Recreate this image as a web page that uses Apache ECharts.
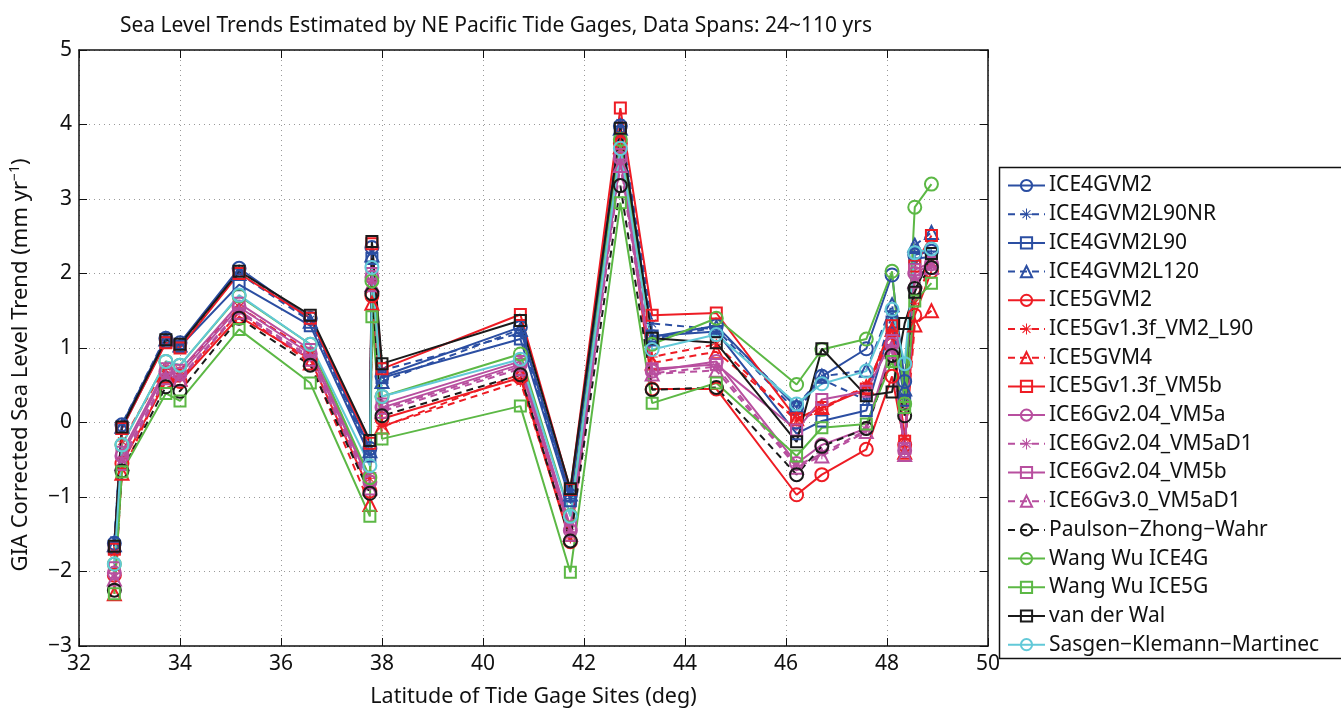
<!DOCTYPE html>
<html>
<head>
<meta charset="utf-8">
<script src="https://cdn.jsdelivr.net/npm/echarts@6/dist/echarts.min.js"></script>
<style>
html, body { margin: 0; padding: 0; background: #fff; }
#chart { width: 1341px; height: 713px; }
</style>
</head>
<body>
<div id="chart"></div>
<script>
// tide gage latitudes (deg)
let lats = [32.70, 32.85, 33.72, 34.00, 35.17, 36.58, 37.76, 37.80, 38.00, 40.74, 41.73, 42.72, 43.35, 44.62, 46.21, 46.71, 47.59, 48.10, 48.35, 48.55, 48.88];

let names = ['ICE4GVM2', 'ICE4GVM2L90NR', 'ICE4GVM2L90', 'ICE4GVM2L120', 'ICE5GVM2', 'ICE5Gv1.3f_VM2_L90', 'ICE5GVM4', 'ICE5Gv1.3f_VM5b',
	'ICE6Gv2.04_VM5a', 'ICE6Gv2.04_VM5aD1', 'ICE6Gv2.04_VM5b', 'ICE6Gv3.0_VM5aD1', 'Paulson\u2212Zhong\u2212Wahr', 'Wang Wu ICE4G', 'Wang Wu ICE5G', 'van der Wal', 'Sasgen\u2212Klemann\u2212Martinec'];

// GIA corrected trends (mm/yr), one list per model, same order as lats
let ice4gVm2       = [-1.62, -0.03, 1.13, 1.07, 2.07, 1.40, -0.35, 2.35, 0.62, 1.28, -0.98, 3.98, 1.15, 1.30, 0.20, 0.62, 0.99, 1.98, 0.55, 2.25, 2.30];
let ice4gL90nr     = [-1.58, -0.02, 1.15, 1.06, 2.05, 1.38, -0.42, 2.28, 0.70, 1.20, -1.02, 4.02, 1.33, 1.25, 0.15, 0.58, 0.30, 1.45, 0.35, 2.35, 2.25];
let ice4gL90       = [-1.68, -0.08, 1.08, 1.02, 1.85, 1.30, -0.45, 2.20, 0.60, 1.12, -1.05, 3.90, 1.16, 1.22, -0.15, 0.02, 0.16, 1.35, 0.30, 2.20, 2.22];
let ice4gL120      = [-1.64, -0.05, 1.12, 1.04, 2.00, 1.36, -0.38, 2.25, 0.55, 1.25, -0.96, 3.95, 1.12, 1.28, 0.22, 0.62, 0.70, 1.58, 0.45, 2.38, 2.55];
let ice5gVm2       = [-2.05, -0.55, 0.55, 0.55, 1.42, 0.85, -0.92, 1.70, 0.05, 0.60, -1.60, 3.75, 0.45, 0.45, -0.97, -0.70, -0.36, 0.62, -0.30, 1.44, 2.03];
let ice5gVm2L90    = [-1.75, -0.25, 0.75, 0.70, 1.55, 0.95, -0.75, 1.90, -0.05, 0.55, -1.55, 3.85, 0.88, 1.05, 0.02, 0.17, 0.50, 1.15, -0.21, 1.60, 2.15];
let ice5gVm4       = [-2.30, -0.68, 0.62, 0.58, 1.48, 0.80, -1.10, 1.60, -0.06, 0.65, -1.50, 3.70, 0.80, 0.95, 0.05, 0.20, 0.48, 1.25, -0.40, 1.31, 1.50];
let ice5gVm5b      = [-1.70, -0.08, 1.07, 1.00, 2.00, 1.40, -0.28, 2.40, 0.72, 1.45, -0.90, 4.22, 1.44, 1.47, 0.05, 0.20, 0.45, 1.30, -0.25, 2.10, 2.51];
let ice6gVm5a      = [-2.02, -0.45, 0.68, 0.65, 1.55, 0.92, -0.80, 1.95, 0.20, 0.78, -1.45, 3.55, 0.69, 0.82, -0.55, -0.30, -0.08, 1.05, -0.38, 2.00, 2.13];
let ice6gVm5aD1    = [-2.08, -0.50, 0.62, 0.60, 1.50, 0.88, -0.85, 1.90, 0.18, 0.75, -1.48, 3.50, 0.66, 0.75, -0.58, -0.42, -0.10, 1.00, -0.40, 1.95, 2.10];
let ice6gVm5b      = [-1.95, -0.40, 0.72, 0.70, 1.60, 0.98, -0.75, 2.00, 0.25, 0.82, -1.40, 3.60, 0.72, 0.78, -0.10, 0.31, 0.42, 1.10, -0.35, 2.05, 2.15];
let ice6g3Vm5aD1   = [-2.10, -0.55, 0.60, 0.58, 1.48, 0.85, -0.88, 1.85, 0.15, 0.72, -1.50, 3.45, 0.65, 0.70, -0.60, -0.45, -0.12, 0.95, -0.43, 1.90, 2.08];
let paulson        = [-2.25, -0.65, 0.48, 0.42, 1.40, 0.77, -0.95, 1.73, 0.09, 0.64, -1.59, 3.18, 0.44, 0.47, -0.70, -0.32, -0.08, 0.90, 0.09, 1.80, 2.08];
let wangWuIce4g    = [-1.90, -0.30, 0.82, 0.77, 1.70, 1.05, -0.74, 1.90, 0.35, 0.92, -1.25, 3.80, 1.05, 1.40, 0.51, 0.98, 1.12, 2.03, 0.25, 2.89, 3.20];
let wangWuIce5g    = [-2.30, -0.66, 0.39, 0.29, 1.25, 0.53, -1.26, 1.42, -0.22, 0.22, -2.01, 2.95, 0.26, 0.53, -0.45, -0.07, -0.02, 0.82, 0.20, 1.63, 1.87];
let vanDerWal      = [-1.66, -0.06, 1.11, 1.05, 2.03, 1.44, -0.24, 2.43, 0.79, 1.37, -0.89, 3.95, 1.13, 1.07, -0.26, 0.99, 0.36, 0.41, 1.33, 1.75, 2.27];
let sasgen         = [-1.90, -0.30, 0.82, 0.77, 1.71, 1.05, -0.58, 2.08, 0.35, 0.85, -1.26, 3.68, 0.98, 1.18, 0.25, 0.52, 0.69, 1.52, 0.79, 2.28, 2.33];

let allValues = [ice4gVm2, ice4gL90nr, ice4gL90, ice4gL120, ice5gVm2, ice5gVm2L90, ice5gVm4, ice5gVm5b,
	ice6gVm5a, ice6gVm5aD1, ice6gVm5b, ice6g3Vm5aD1, paulson, wangWuIce4g, wangWuIce5g, vanDerWal, sasgen];

let blue = '#2b4ea2', red = '#ee1c24', mag = '#b84f9f', blk = '#1a1a1a', grn = '#5cb845', cyn = '#62c9d8';
let colors = [blue, blue, blue, blue, red, red, red, red, mag, mag, mag, mag, blk, grn, grn, blk, cyn];
let marks  = ['o', '*', 's', '^', 'o', '*', '^', 's', 'o', '*', 's', '^', 'o', 'o', 's', 's', 'o'];
let dashed = [0, 1, 0, 1, 0, 1, 1, 0, 0, 1, 0, 1, 1, 0, 0, 0, 0];

let star = 'path://M-0.9,-10L0.9,-10L0.9,10L-0.9,10Z M-10,-0.9L10,-0.9L10,0.9L-10,0.9Z M-7.7,-6.4L-6.4,-7.7L7.7,6.4L6.4,7.7Z M6.4,-7.7L7.7,-6.4L-6.4,7.7L-7.7,6.4Z';
let font = '"Noto Sans", "Open Sans", sans-serif';

let myChart = echarts.init(document.getElementById('chart'));

let series = [];
names.forEach((n, i) => {
	let c = colors[i];
	let m = marks[i];
	let sym = m == 'o' ? 'circle' : m == 's' ? 'rect' : m == '^' ? 'triangle' : star;
	let size = m == 'o' ? 13 : m == 's' ? 11 : m == '^' ? 13 : 11;
	series.push({
		name: n,
		type: 'line',
		data: lats.map((x, k) => [x, allValues[i][k]]),
		symbol: sym,
		symbolSize: size,
		showAllSymbol: true,
		animation: false,
		lineStyle: { color: c, width: 2, type: dashed[i] ? [7, 5] : 'solid' },
		itemStyle: m == '*' ? { color: c } : { color: 'rgba(0,0,0,0)', borderColor: c, borderWidth: 2 },
		emphasis: { disabled: true }
	});
});

let minus = v => String(v).replace('-', '\u2212');

option = {
	backgroundColor: '#fff',
	textStyle: { fontFamily: font },
	title: {
		text: 'Sea Level Trends Estimated by NE Pacific Tide Gages, Data Spans: 24~110 yrs',
		left: 115,
		top: 11,
		textStyle: { fontFamily: font, fontSize: 21, fontWeight: 'normal', color: '#111' }
	},
	grid: { left: 78, right: 353, top: 50, bottom: 54, containLabel: false },
	legend: {
		orient: 'vertical',
		left: 1000,
		top: 175,
		height: 530,
		padding: [0, 0, 0, 7],
		itemWidth: 37,
		itemHeight: 14,
		itemGap: 7.7,
		textStyle: { fontFamily: font, fontSize: 21, color: '#111', padding: [0, 0, 0, -1] },
		data: names,
		selectedMode: false
	},
	graphic: [{
		type: 'rect',
		shape: { x: 999.5, y: 167.5, width: 345, height: 491 },
		style: { fill: 'none', stroke: '#111', lineWidth: 1.5 },
		silent: true
	}],
	xAxis: [{
		type: 'value', min: 32, max: 50, interval: 2,
		name: 'Latitude of Tide Gage Sites (deg)', nameLocation: 'middle', nameGap: 40,
		nameTextStyle: { fontFamily: font, fontSize: 21.5, color: '#111' },
		axisLine: { onZero: false, lineStyle: { color: '#111', width: 1.5 } },
		axisTick: { inside: true, length: 8, lineStyle: { color: '#111' } },
		axisLabel: { fontFamily: font, fontSize: 21, color: '#111', margin: 8 },
		splitLine: { show: true, lineStyle: { color: '#999', type: [1, 4], width: 1 } }
	}, {
		type: 'value', min: 32, max: 50, interval: 2, position: 'top',
		axisLine: { onZero: false, lineStyle: { color: '#111', width: 1.5 } },
		axisTick: { inside: true, length: 8, lineStyle: { color: '#111' } },
		axisLabel: { show: false },
		splitLine: { show: false }
	}],
	yAxis: [{
		type: 'value', min: -3, max: 5, interval: 1,
		name: 'GIA Corrected Sea Level Trend (mm yr{sup|\u22121})', nameLocation: 'middle', nameGap: 46,
		nameTextStyle: {
			fontFamily: font, fontSize: 22, color: '#111', padding: [0, 0, 0, -34],
			rich: { sup: { fontFamily: font, fontSize: 14, color: '#111', verticalAlign: 'top', padding: [0, 0, 11, 0] } }
		},
		axisLine: { onZero: false, lineStyle: { color: '#111', width: 1.5 } },
		axisTick: { inside: true, length: 8, lineStyle: { color: '#111' } },
		axisLabel: { fontFamily: font, fontSize: 21, color: '#111', margin: 7, formatter: minus },
		splitLine: { show: true, lineStyle: { color: '#999', type: [1, 4], width: 1 } }
	}, {
		type: 'value', min: -3, max: 5, interval: 1, position: 'right',
		axisLine: { onZero: false, lineStyle: { color: '#111', width: 1.5 } },
		axisTick: { inside: true, length: 8, lineStyle: { color: '#111' } },
		axisLabel: { show: false },
		splitLine: { show: false }
	}],
	series: series
};

myChart.setOption(option);
</script>
</body>
</html>
